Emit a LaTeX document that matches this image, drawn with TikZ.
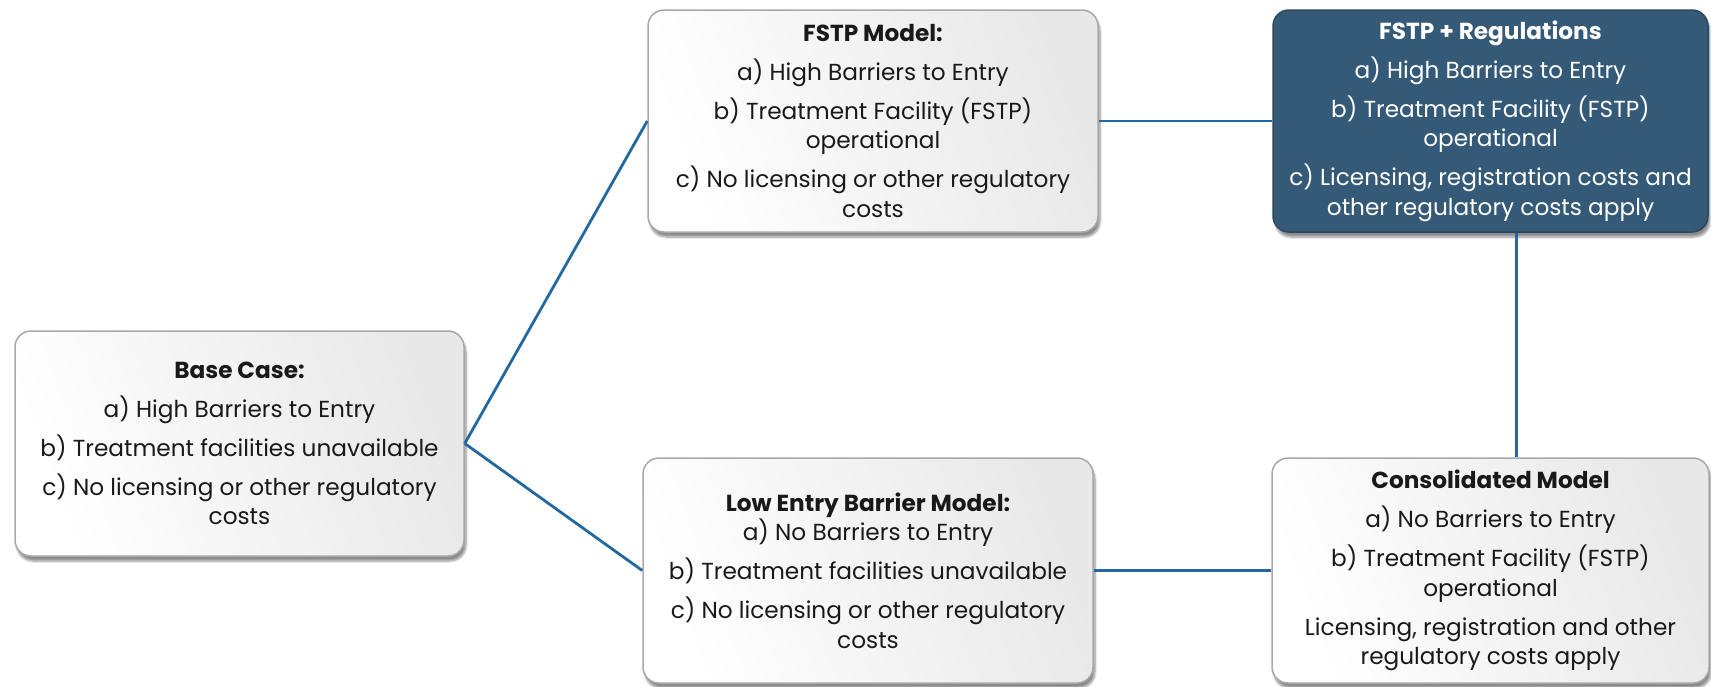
\documentclass[tikz,border=0pt]{standalone}
\usepackage{fontspec}
\setmainfont{Poppins}
\usetikzlibrary{shadows,shadows.blur}
\definecolor{linkblue}{HTML}{2369A0}
\definecolor{darkbox}{HTML}{345A78}
\definecolor{boxborder}{HTML}{A8A8A8}
\tikzset{
  box/.style={draw=boxborder, line width=1.5pt, rounded corners=16pt,
    left color=white, right color=black!9, shading angle=110,
    align=center, inner sep=0pt, text=black!90,
    font=\fontsize{23.2}{29.5}\selectfont,
    blur shadow={shadow xshift=2pt, shadow yshift=-5pt, shadow blur steps=6, shadow opacity=45}},
  darkboxstyle/.style={box, draw=darkbox!80!black, left color=darkbox, right color=darkbox, text=white},
  link/.style={draw=linkblue, line width=2.8pt}
}
\begin{document}
\begin{tikzpicture}[x=1pt,y=-1pt]
\useasboundingbox (0,0) rectangle (1711,686);
\node[box, minimum width=449pt, minimum height=225pt] (base) at (239.5,443.5)
  {\textbf{Base Case:}\\[9.5pt] a) High Barriers to Entry\\[9.5pt] b) Treatment facilities unavailable\\[9.5pt] c) No licensing or other regulatory\\ costs};
\node[box, minimum width=450pt, minimum height=222pt] (fstp) at (873,121)
  {\textbf{FSTP Model:}\\[9.5pt] a) High Barriers to Entry\\[9.5pt] b) Treatment Facility (FSTP)\\ operational\\[9.5pt] c) No licensing or other regulatory\\ costs};
\node[darkboxstyle, minimum width=435pt, minimum height=222pt] (reg) at (1490.5,121)
  {\textbf{FSTP + Regulations}\\[9.5pt] a) High Barriers to Entry\\[9.5pt] b) Treatment Facility (FSTP)\\ operational\\[9.5pt] c) Licensing, registration costs and\\ other regulatory costs apply};
\node[box, minimum width=450pt, minimum height=225pt] (low) at (868,570.5)
  {\textbf{Low Entry Barrier Model:}\\ a) No Barriers to Entry\\[9.5pt] b) Treatment facilities unavailable\\[9.5pt] c) No licensing or other regulatory\\ costs};
\node[box, minimum width=437pt, minimum height=225pt] (cons) at (1490.5,570.5)
  {\textbf{Consolidated Model}\\[9.5pt] a) No Barriers to Entry\\[9.5pt] b) Treatment Facility (FSTP)\\ operational\\[9.5pt] Licensing, registration and other\\ regulatory costs apply};
\draw[link] (base.east) -- (fstp.west);
\draw[link] (base.east) -- (low.west);
\draw[link] (fstp.east) -- (reg.west);
\draw[link] (low.east) -- (cons.west);
\draw[link] ([xshift=26pt]reg.south) -- ([xshift=26pt]cons.north);
\end{tikzpicture}
\end{document}
